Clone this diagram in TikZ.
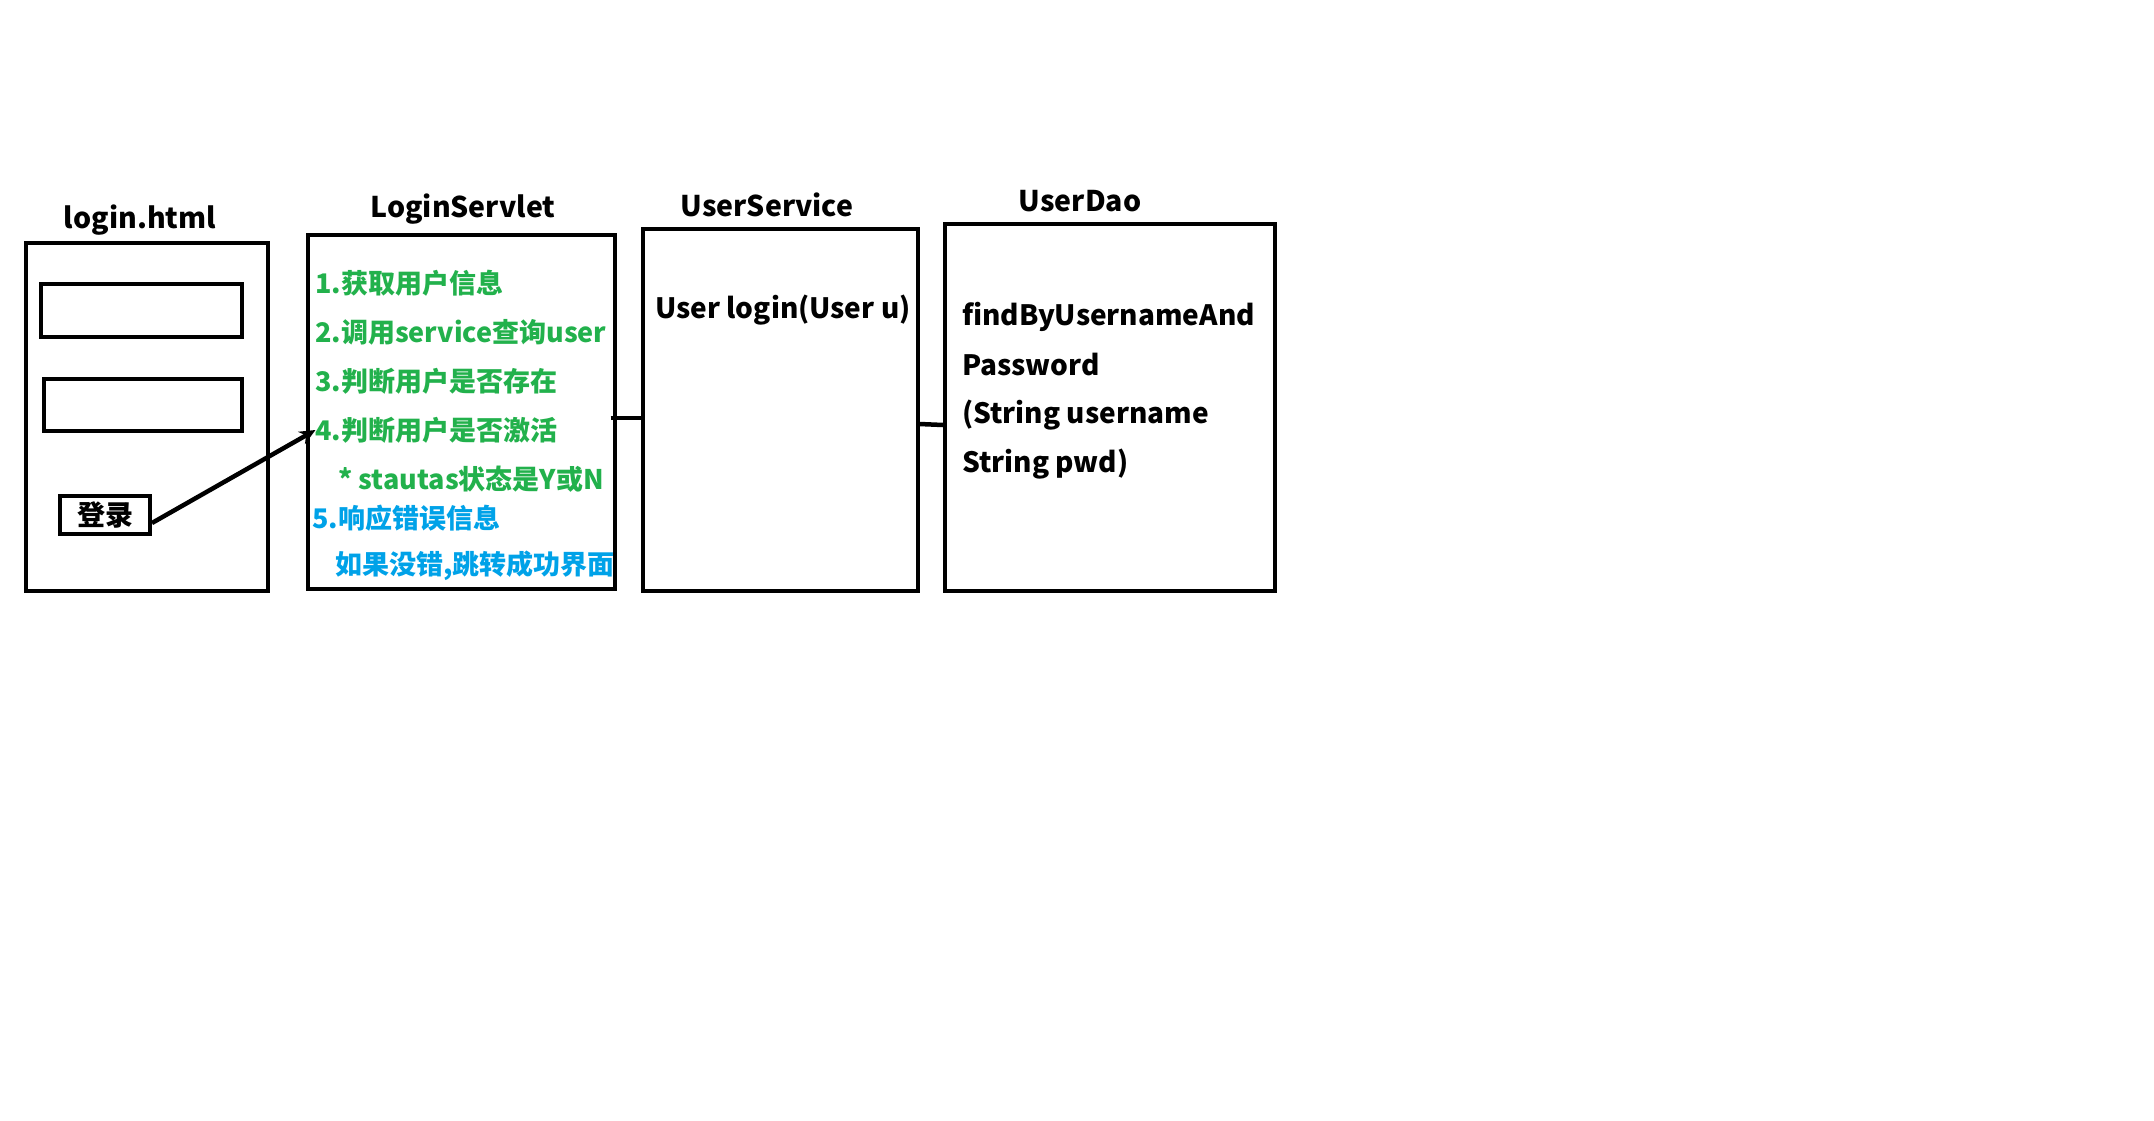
\documentclass[tikz,border=0pt]{standalone}
\usepackage{fontspec}
\setmainfont{Noto Sans CJK SC}
\usetikzlibrary{arrows.meta}
\definecolor{paintgreen}{RGB}{34,177,76}
\definecolor{paintblue}{RGB}{0,162,232}

\begin{document}
\begin{tikzpicture}[>={Stealth[length=16pt, width=14pt]}, x=1pt, y=-1pt,
    box/.style={draw, line width=4pt, inner sep=0pt},
    title/.style={font=\fontsize{28.5}{34}\selectfont\bfseries, inner sep=0pt},
    txt/.style={font=\fontsize{28}{34}\selectfont\bfseries, inner sep=0pt, anchor=west},
    stepline/.style={font=\fontsize{27}{32}\selectfont\bfseries, inner sep=0pt, anchor=west}]

    % Canvas
    \fill[white] (0,0) rectangle (2154,1121);
    \useasboundingbox (0,0) rectangle (2154,1121);

    % Boxes
    \node[box, minimum width=242pt, minimum height=348pt] (html) at (147,417) {};
    \node[box, minimum width=201pt, minimum height=53pt] (input1) at (141,310) {};
    \node[box, minimum width=198pt, minimum height=52pt] (input2) at (143,405) {};
    \node[box, minimum width=90pt, minimum height=38pt, font=\fontsize{28}{34}\selectfont\bfseries] (login) at (105,515) {登录};
    \node[box, minimum width=307pt, minimum height=354pt] (servlet) at (461,412) {};
    \node[box, minimum width=275pt, minimum height=362pt] (service) at (780,410) {};
    \node[box, minimum width=330pt, minimum height=367pt] (dao) at (1110,407) {};

    % Titles
    \node[title] (thtml) at (140,220) {login.html};
    \node[title] (tservlet) at (463,209) {LoginServlet};
    \node[title] (tservice) at (767,205) {UserService};
    \node[title] (tdao) at (1080,201) {UserDao};

    % Servlet steps
    \node[stepline, paintgreen] (s1) at (315,283) {1.获取用户信息};
    \node[stepline, paintgreen] (s2) at (315,332) {2.调用service查询user};
    \node[stepline, paintgreen] (s3) at (315,381) {3.判断用户是否存在};
    \node[stepline, paintgreen] (s4) at (315,430) {4.判断用户是否激活};
    \node[stepline, paintgreen] (s4b) at (338,479) {* stautas状态是Y或N};
    \node[stepline, paintblue] (s5) at (312,518) {5.响应错误信息};
    \node[stepline, paintblue] (s5b) at (335,566) {如果没错,跳转成功界面};

    % Method signatures
    \node[txt] (mlogin) at (655,310) {User login(User u)};
    \node[txt] (m1) at (962,317) {findByUsernameAnd};
    \node[txt] (m2) at (962,365) {Password};
    \node[txt] (m3) at (962,415) {(String username};
    \node[txt] (m4) at (962,464) {String pwd)};

    % Connectors
    \draw[->, line width=4.5pt] ([yshift=-8pt]login.east) -- ([xshift=10pt, yshift=-18pt]servlet.west);
    \draw[line width=4.5pt] ([xshift=-6pt, yshift=-6pt]servlet.east) -- ([yshift=-8pt]service.west);
    \draw[line width=4.5pt] ([yshift=-14pt]service.east) -- ([yshift=-18pt]dao.west);

\end{tikzpicture}
\end{document}
